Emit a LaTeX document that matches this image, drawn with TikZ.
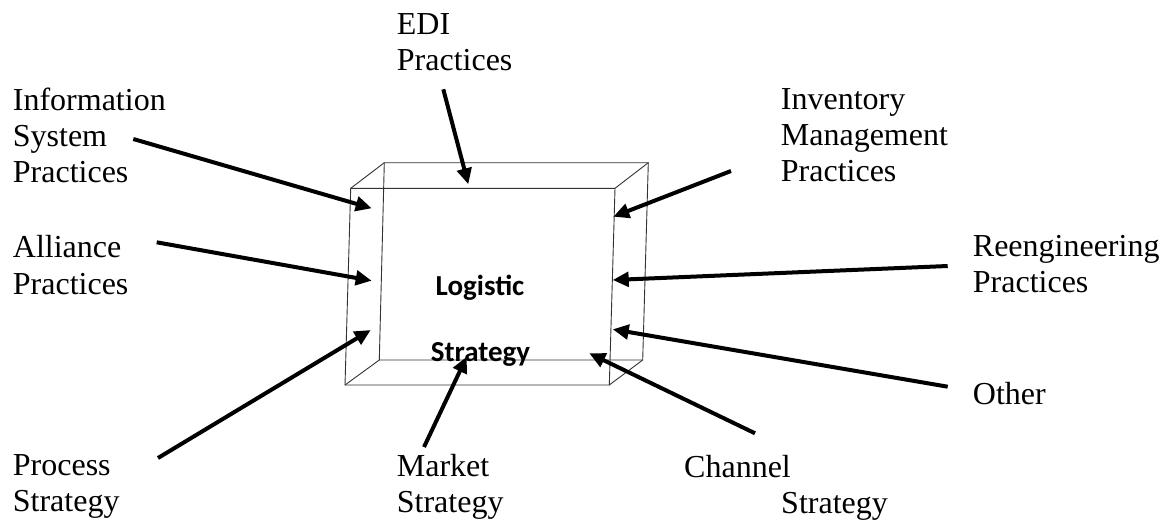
\documentclass[tikz,border=0pt]{standalone}
\usepackage{fontspec}
\setmainfont{Liberation Serif}
\newfontfamily\boxfont{Carlito}
\usetikzlibrary{arrows.meta}
\begin{document}
\begin{tikzpicture}[x=1pt,y=-1pt,
  lbl/.style={anchor=north west, inner sep=0pt, align=left, font=\fontsize{32}{36.3}\selectfont},
  boxtext/.style={anchor=base, inner sep=0pt, font=\boxfont\bfseries\fontsize{29}{32}\selectfont},
  arr/.style={line width=4pt, -{Triangle[length=16pt,width=14.5pt]}},
  boxedge/.style={line width=0.9pt, draw=black!80}]
\useasboundingbox[fill=white] (0,0) rectangle (1161,519);

% box corners
\coordinate (fTL) at (350.7,188.3);
\coordinate (fTR) at (615,188.3);
\coordinate (fBR) at (609.3,385);
\coordinate (fBL) at (345,385);
\coordinate (bTL) at (384.3,162.7);
\coordinate (bTR) at (648.3,162.7);
\coordinate (bBR) at (642.7,360);
\coordinate (bBL) at (379.3,360);

\draw[boxedge] (fTL) -- (fTR) -- (fBR) -- (fBL) -- cycle;
\draw[boxedge] (bTL) -- (bTR) -- (bBR) -- (bBL) -- cycle;
\draw[boxedge] (fTL) -- (bTL);
\draw[boxedge] (fTR) -- (bTR);
\draw[boxedge] (fBR) -- (bBR);
\draw[boxedge] (fBL) -- (bBL);

% box texts
\node[boxtext] (logistic) at (480,295) {Logistic};
\node[boxtext] (strategy) at (480.5,361.7) {Strategy};

% labels
\node[lbl] (edi) at (396.7,13.5) {EDI\\Practices};
\node[lbl] (info) at (12.7,87.5) {Information\\System\\Practices};
\node[lbl] (alliance) at (12.7,235.3) {Alliance\\Practices};
\node[lbl] (process) at (12.7,454) {Process\\Strategy};
\node[lbl] (market) at (396.7,454) {Market\\Strategy};
\node[lbl] (channel) at (684,455) {Channel\\\hspace*{97pt}Strategy};
\node[lbl] (inventory) at (780.7,88) {Inventory\\Management\\Practices};
\node[lbl] (reeng) at (972.7,235.3) {Reengineering\\Practices};
\node[lbl] (other) at (972.7,382) {Other};

% arrow endpoints
\coordinate (infoS) at (133.3,139);     \coordinate (infoT) at (371.7,208.3);
\coordinate (allS) at (156.7,242.3);    \coordinate (allT) at (371.7,280.7);
\coordinate (procS) at (158,458);       \coordinate (procT) at (370.7,330);
\coordinate (markS) at (424,447);       \coordinate (markT) at (466.7,356.7);
\coordinate (chanS) at (755,433.3);     \coordinate (chanT) at (589.3,353.3);
\coordinate (othS) at (947.7,386.7);    \coordinate (othT) at (612.7,329.3);
\coordinate (reS) at (947.7,266);       \coordinate (reT) at (612.7,280);
\coordinate (invS) at (731,171);        \coordinate (invT) at (613.3,216.7);
\coordinate (ediS) at (443.3,89.3);     \coordinate (ediT) at (468.3,184.3);

\draw[arr] (infoS) -- (infoT);
\draw[arr] (allS) -- (allT);
\draw[arr] (procS) -- (procT);
\draw[arr] (markS) -- (markT);
\draw[arr] (chanS) -- (chanT);
\draw[arr] (othS) -- (othT);
\draw[arr] (reS) -- (reT);
\draw[arr] (invS) -- (invT);
\draw[arr] (ediS) -- (ediT);
\end{tikzpicture}
\end{document}
